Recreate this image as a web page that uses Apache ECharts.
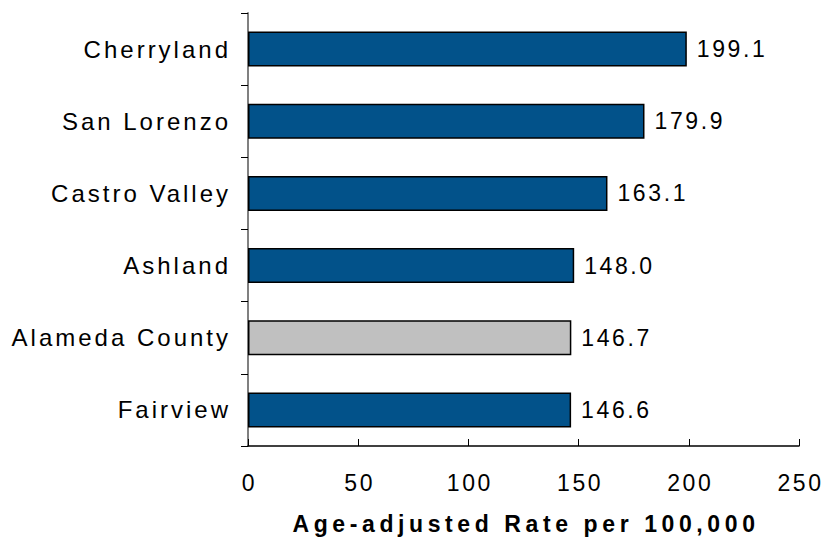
<!DOCTYPE html>
<html>
<head>
<meta charset="utf-8">
<script src="https://cdn.jsdelivr.net/npm/echarts@6/dist/echarts.min.js"></script>
<style>
  html, body { margin: 0; padding: 0; background: #ffffff; }
  #chart { width: 827px; height: 540px; }
  /* widely tracked lettering: category names, numbers, axis title */
  #chart svg text[style*="24px"] { letter-spacing: 3px; }
  #chart svg text[style*="23px"] { letter-spacing: 2.6px; }
  #chart svg text[style*="bold"] { letter-spacing: 4.6px; }
</style>
</head>
<body>
<div id="chart"></div>
<script>
// Community names, top to bottom
const categories = ['Cherryland', 'San Lorenzo', 'Castro Valley', 'Ashland', 'Alameda County', 'Fairview'];
// Age-adjusted rate per 100,000
const rates = [199.1, 179.9, 163.1, 148.0, 146.7, 146.6];
// The county-wide reference row is shown in grey
const referenceRow = 'Alameda County';
const xTicks = [0, 50, 100, 150, 200, 250];
const axisTitle = 'Age-adjusted Rate per 100,000';

const FONT = '"Liberation Sans", Arial, sans-serif';

const chart = echarts.init(document.getElementById('chart'), null, { renderer: 'svg' });

chart.setOption({
  backgroundColor: '#ffffff',
  animation: false,
  grid: { left: 248, top: 13, width: 551, height: 435, containLabel: false },
  xAxis: {
    type: 'value',
    min: xTicks[0],
    max: xTicks[xTicks.length - 1],
    interval: xTicks[1] - xTicks[0],
    axisLine: { show: true, lineStyle: { color: '#000000', width: 1.5 } },
    axisTick: { show: true, inside: true, length: 7, lineStyle: { color: '#000000', width: 1 } },
    splitLine: { show: false },
    axisLabel: { margin: 25, color: '#000000', fontFamily: FONT, fontSize: 23, padding: [0, 0, 0, 3] },
    name: axisTitle,
    nameLocation: 'middle',
    nameGap: 66,
    nameTextStyle: { color: '#000000', fontFamily: FONT, fontSize: 23, fontWeight: 'bold', padding: [0, 0, 0, 5] }
  },
  yAxis: {
    type: 'category',
    data: categories,
    inverse: true,
    axisLine: { show: true, lineStyle: { color: '#808080', width: 2 } },
    axisTick: { show: true, inside: false, length: 7, lineStyle: { color: '#000000', width: 1 } },
    axisLabel: { margin: 17, color: '#000000', fontFamily: FONT, fontSize: 24 }
  },
  series: [{
    type: 'bar',
    data: rates.map((v, i) => ({
      value: v,
      itemStyle: { color: categories[i] === referenceRow ? '#C0C0C0' : '#02528A' }
    })),
    barWidth: 35,
    itemStyle: { borderColor: '#000000', borderWidth: 1.5 },
    label: {
      show: true,
      position: 'right',
      distance: 10,
      color: '#000000',
      fontFamily: FONT,
      fontSize: 23,
      formatter: p => p.value.toFixed(1)
    }
  }]
});
</script>
</body>
</html>
